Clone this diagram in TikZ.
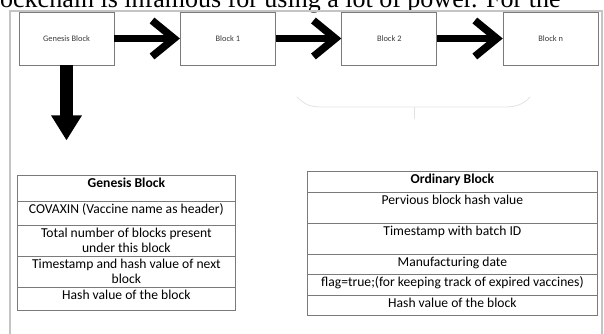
\documentclass[tikz,border=0pt]{standalone}
\usepackage{fontspec}
\setmainfont{Carlito}
\newfontfamily\docserif{Liberation Serif}
\usetikzlibrary{arrows.meta, positioning}
\definecolor{framegray}{HTML}{C4C4C4}
\definecolor{boxline}{HTML}{7A7A7A}
\definecolor{lblgray}{HTML}{3A3A3A}
\definecolor{bracegray}{HTML}{E2E2E2}
\tikzset{
  blk/.style={draw=boxline, line width=0.9pt, minimum width=95pt, minimum height=53pt,
    inner sep=0pt, text=lblgray, font=\fontsize{8.4}{10}\selectfont},
  chain/.style={line width=7.5pt, -{Straight Barb[length=22pt,width=36pt]}},
  drop/.style={line width=13pt, -{Triangle[length=25pt,width=29pt]}},
  cell/.style={draw=boxline, line width=0.8pt, anchor=north west, inner sep=0pt},
  celltext/.style={anchor=north, inner xsep=0pt, inner ysep=2.6pt, align=center,
    font=\fontsize{13.6}{15}\selectfont}
}

\begin{document}
\begin{tikzpicture}[x=1pt, y=-1pt]
  \useasboundingbox (0,0) rectangle (604,334);
  \clip (0,0) rectangle (604,334);
  % text of the page above the figure
  \node[anchor=base west, inner sep=0pt, font=\docserif\fontsize{26}{30}\selectfont] (doc) at (0,8)
    {ockchain is infamous for using a lot of power. For the};
  \draw[framegray, line width=1.2pt] (10,334) -- (10,11) -- (602,11) -- (602,334);
  % the chain
  \node[blk] (g) at (66.5,38.5) {Genesis Block};
  \node[blk, right=65.5pt of g] (b1) {Block 1};
  \node[blk, right=65.5pt of b1] (b2) {Block 2};
  \node[blk, right=65.5pt of b2] (bn) {Block n};
  \foreach \a/\b in {g/b1, b1/b2, b2/bn}{\draw[chain] (\a) -- (\b);}
  \coordinate (gdown) at ([yshift=-75pt]g.south);
  \draw[drop] (g.south) -- (gdown);
  % brace under the ordinary blocks
  \draw[bracegray, line width=0.8pt] (297,97) .. controls (305,105) and (311,107) .. (322,107)
    -- (505,107) .. controls (516,107) and (524,104) .. (530,97);
  \draw[bracegray, line width=0.8pt] (414,107) -- (414,119);
  % genesis block fields
  \foreach \n/\top/\h/\txt in {g1/175/26pt/{\textbf{Genesis Block}},
      g2/201/24pt/{COVAXIN (Vaccine name as header)},
      g3/225/31pt/{Total number of blocks present\\under this block},
      g4/256/31pt/{Timestamp and hash value of next\\block},
      g5/287/23pt/{Hash value of the block}}{
    \node[cell, minimum width=218pt, minimum height=\h] (\n) at (17,\top) {};
    \node[celltext] (\n-t) at (\n.north) {\txt};}
  % ordinary block fields
  \foreach \n/\top/\h/\txt in {o1/171/21pt/{\textbf{Ordinary Block}},
      o2/192/31pt/{Pervious block hash value},
      o3/223/31pt/{Timestamp with batch ID},
      o4/254/20pt/{Manufacturing date},
      o5/274/21pt/{flag=true;(for keeping track of expired vaccines)},
      o6/295/20pt/{Hash value of the block}}{
    \node[cell, minimum width=290pt, minimum height=\h] (\n) at (307,\top) {};
    \node[celltext] (\n-t) at (\n.north) {\txt};}
\end{tikzpicture}
\end{document}
